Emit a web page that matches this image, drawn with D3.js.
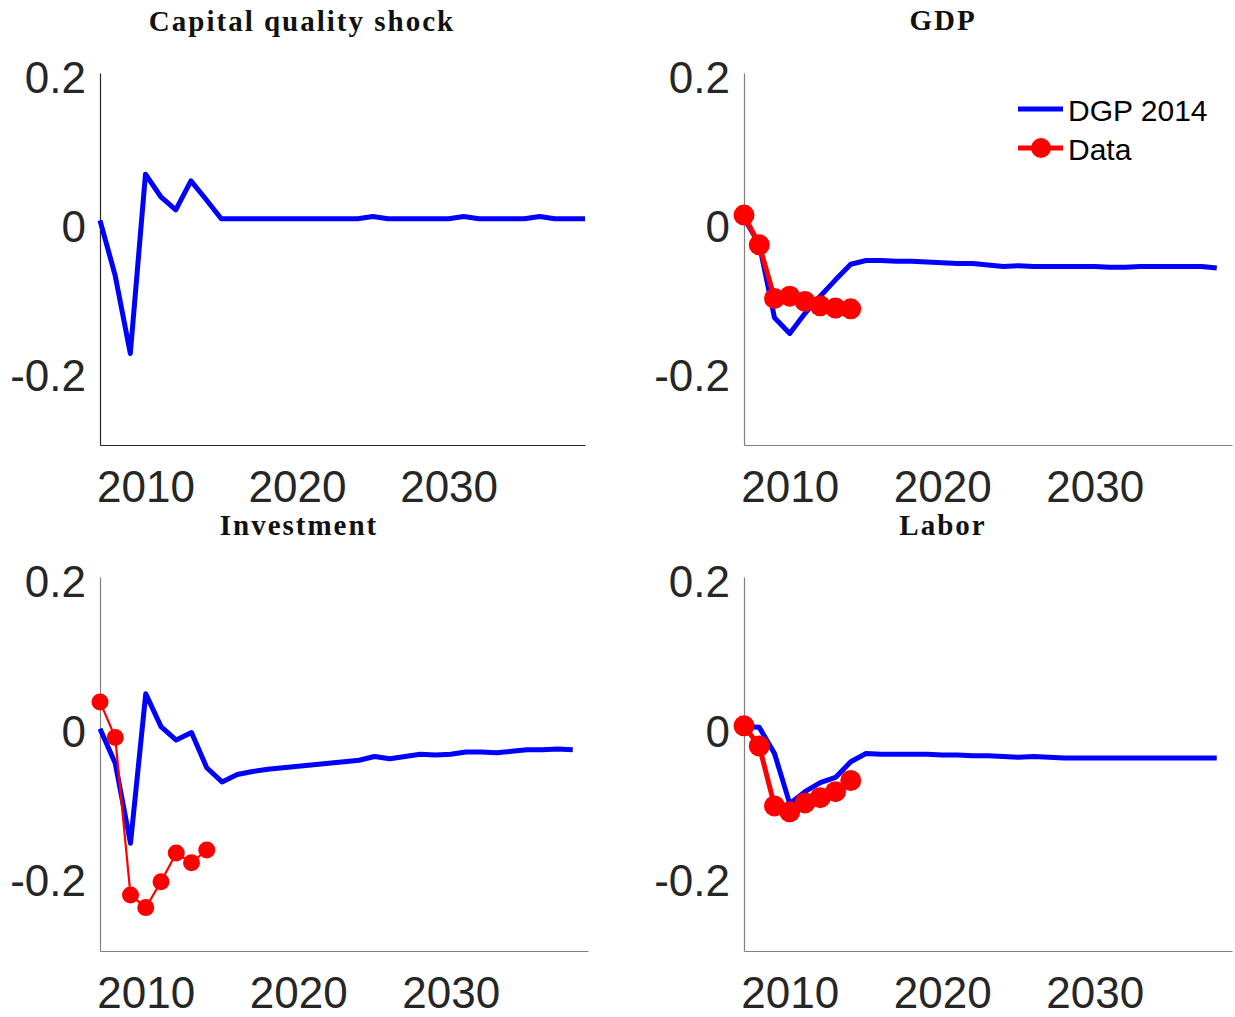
<!DOCTYPE html>
<html>
<head>
<meta charset="utf-8">
<script src="https://cdn.jsdelivr.net/npm/d3@7"></script>
<style>
  body { margin: 0; background: #fff; }
  svg { display: block; }
</style>
</head>
<body>
<svg id="chart" width="1235" height="1017"></svg>
<script>
// ---------------- DATA ----------------
const yearsShock = [2007,2008,2009,2010,2011,2012,2013,2014,2015,2016,2017,2018,2019,2020,2021,2022,2023,2024,2025,2026,2027,2028,2029,2030,2031,2032,2033,2034,2035,2036,2037,2038,2039];
const yearsModel = [2007,2008,2009,2010,2011,2012,2013,2014,2015,2016,2017,2018,2019,2020,2021,2022,2023,2024,2025,2026,2027,2028,2029,2030,2031,2032,2033,2034,2035,2036,2037,2038];
const yearsData  = [2007,2008,2009,2010,2011,2012,2013,2014];

const shockModel = [0.002,-0.072,-0.177,0.064,0.034,0.016,0.055,0.030,0.004,0.004,0.004,0.004,0.004,0.004,0.004,0.004,0.004,0.004,0.007,0.004,0.004,0.004,0.004,0.004,0.007,0.004,0.004,0.004,0.004,0.007,0.004,0.004,0.004];

const gdpModel = [0.005,-0.030,-0.129,-0.150,-0.123,-0.100,-0.078,-0.057,-0.052,-0.052,-0.053,-0.053,-0.054,-0.055,-0.056,-0.056,-0.058,-0.060,-0.059,-0.060,-0.060,-0.060,-0.060,-0.060,-0.061,-0.061,-0.060,-0.060,-0.060,-0.060,-0.060,-0.062];
const gdpData  = [0.009,-0.031,-0.103,-0.100,-0.107,-0.113,-0.116,-0.117];

const invModel = [-0.003,-0.049,-0.156,0.044,0.000,-0.018,-0.008,-0.055,-0.074,-0.064,-0.060,-0.057,-0.055,-0.053,-0.051,-0.049,-0.047,-0.045,-0.040,-0.043,-0.040,-0.037,-0.038,-0.037,-0.034,-0.034,-0.035,-0.033,-0.031,-0.031,-0.030,-0.031];
const invData  = [0.033,-0.0145,-0.225,-0.242,-0.2075,-0.169,-0.182,-0.165];

const labModel = [0.000,-0.001,-0.036,-0.103,-0.087,-0.075,-0.068,-0.047,-0.036,-0.037,-0.037,-0.037,-0.037,-0.038,-0.038,-0.039,-0.039,-0.040,-0.041,-0.040,-0.041,-0.042,-0.042,-0.042,-0.042,-0.042,-0.042,-0.042,-0.042,-0.042,-0.042,-0.042];
const labData  = [0.001,-0.026,-0.106,-0.114,-0.102,-0.095,-0.087,-0.072];

const titles = ["Capital quality shock", "GDP", "Investment", "Labor"];
const yTicks = [-0.2, 0, 0.2];
const yTickLabels = ["-0.2", "0", "0.2"];
const xTicks = [2010, 2020, 2030];
const xTickLabels = ["2010", "2020", "2030"];
const legendLabels = ["DGP 2014", "Data"];

// ---------------- LAYOUT ----------------
const panels = [
  {title: titles[0], box:{x0:100,x1:585,y0:73,y1:445}, titleX:302, titleY:31, axisColor:"#262626",
   model:{x:yearsShock, y:shockModel}, data:null},
  {title: titles[1], box:{x0:744,x1:1232,y0:73,y1:445}, titleX:943, titleY:30, axisColor:"#808080",
   model:{x:yearsModel, y:gdpModel}, data:{x:yearsData, y:gdpData, lw:5, r:10.5}, legend:true},
  {title: titles[2], box:{x0:100,x1:588,y0:577,y1:951}, titleX:299, titleY:535, axisColor:"#808080",
   model:{x:yearsModel, y:invModel}, data:{x:yearsData, y:invData, lw:2.2, r:8.5}},
  {title: titles[3], box:{x0:744,x1:1232,y0:577,y1:951}, titleX:943, titleY:535, axisColor:"#808080",
   model:{x:yearsModel, y:labModel}, data:{x:yearsData, y:labData, lw:5, r:10.5}}
];

const svg = d3.select("#chart");
const BLUE = "#0000ff", RED = "#ff0000", TXT = "#262626";
const tickFont = "'Liberation Sans', Arial, Helvetica, sans-serif";

panels.forEach(p => {
  const b = p.box;
  const x = d3.scaleLinear().domain([2007, 2039]).range([b.x0, b.x1]);
  const y = d3.scaleLinear().domain([-0.3, 0.2]).range([b.y1, b.y0]);

  // Axes
  const gy = svg.append("g").attr("transform", `translate(${b.x0},0)`)
    .call(d3.axisLeft(y).tickValues(yTicks).tickFormat((d,i) => yTickLabels[i]).tickSize(0).tickSizeOuter(0).tickPadding(14));
  const gx = svg.append("g").attr("transform", `translate(0,${b.y1})`)
    .call(d3.axisBottom(x).tickValues(xTicks).tickFormat((d,i) => xTickLabels[i]).tickSize(0).tickSizeOuter(0));
  [gx, gy].forEach(g => {
    g.select(".domain").attr("stroke", p.axisColor).attr("stroke-width", 1.2);
    g.selectAll("text").attr("fill", TXT).attr("font-family", tickFont).attr("font-size", 44);
  });
  gy.selectAll(".tick text").attr("dy", 19.5);
  gx.selectAll(".tick text").attr("y", 57).attr("dy", 0);

  // Title
  svg.append("text").attr("x", p.titleX).attr("y", p.titleY).attr("text-anchor", "middle")
    .attr("font-family", "'Liberation Serif', 'Times New Roman', serif").attr("font-weight", "bold")
    .attr("font-size", 29).attr("letter-spacing", 2).attr("fill", "#111").text(p.title);

  // Model line
  const mdl = p.model.x.map((v,i) => [v, p.model.y[i]]);
  const line = d3.line().x(d => x(d[0])).y(d => y(d[1]));
  svg.append("path").datum(mdl).attr("d", line).attr("fill", "none")
    .attr("stroke", BLUE).attr("stroke-width", 5).attr("stroke-linejoin", "round");

  // Data line + markers
  if (p.data) {
    const dd = p.data.x.map((v,i) => [v, p.data.y[i]]);
    svg.append("path").datum(dd).attr("d", line).attr("fill", "none")
      .attr("stroke", RED).attr("stroke-width", p.data.lw).attr("stroke-linejoin", "round");
    svg.append("g").selectAll("circle").data(dd).join("circle")
      .attr("cx", d => x(d[0])).attr("cy", d => y(d[1])).attr("r", p.data.r).attr("fill", RED);
  }

  // Legend
  if (p.legend) {
    const lx = b.x1 - 214, ly = b.y0 + 36;
    const lg = svg.append("g").attr("transform", `translate(${lx},${ly})`);
    lg.append("line").attr("x1", 0).attr("x2", 45).attr("y1", 0).attr("y2", 0)
      .attr("stroke", BLUE).attr("stroke-width", 5);
    lg.append("text").attr("x", 50).attr("y", 12).attr("font-family", tickFont).attr("font-size", 30)
      .attr("fill", "#000").text(legendLabels[0]);
    lg.append("line").attr("x1", 0).attr("x2", 45).attr("y1", 39).attr("y2", 39)
      .attr("stroke", RED).attr("stroke-width", 5);
    lg.append("circle").attr("cx", 23).attr("cy", 39).attr("r", 10).attr("fill", RED);
    lg.append("text").attr("x", 50).attr("y", 51).attr("font-family", tickFont).attr("font-size", 30)
      .attr("fill", "#000").text(legendLabels[1]);
  }
});
</script>
</body>
</html>
